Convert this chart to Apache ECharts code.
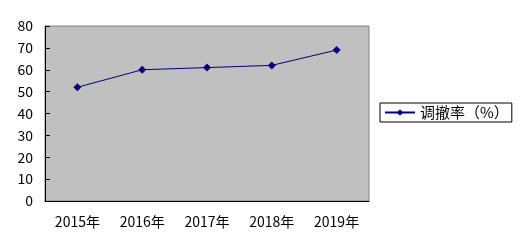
<!DOCTYPE html>
<html><head><meta charset="utf-8">
<script src="https://cdn.jsdelivr.net/npm/echarts@6/dist/echarts.min.js"></script>
<style>html,body{margin:0;padding:0;background:#fff}#c{width:520px;height:251px}</style>
</head><body><div id="c"></div>
<script>
const categories = ['2015年','2016年','2017年','2018年','2019年'];
const values = [52, 60, 61, 62, 69];
const seriesName = '调撤率（%）';
const yTicks = {min: 0, max: 80, interval: 10};

const chart = echarts.init(document.getElementById('c'));
const font = '"Noto Sans CJK SC", "DejaVu Sans", sans-serif';
chart.setOption({
  animation: false,
  backgroundColor: '#ffffff',
  grid: {left: 45, top: 26, width: 324, height: 175, show: true, backgroundColor: '#c0c0c0', borderColor: '#808080', borderWidth: 1},
  xAxis: {
    type: 'category', data: categories, boundaryGap: true,
    axisLine: {lineStyle: {color: '#000', width: 1}},
    axisTick: {inside: true, length: 5, lineStyle: {color: '#000'}},
    axisLabel: {color: '#000', fontSize: 14, fontFamily: font, margin: 14}
  },
  yAxis: {
    type: 'value', min: yTicks.min, max: yTicks.max, interval: yTicks.interval,
    axisLine: {show: true, lineStyle: {color: '#000', width: 1}},
    axisTick: {show: true, inside: true, length: 5, lineStyle: {color: '#000'}},
    splitLine: {show: false},
    axisLabel: {color: '#000', fontSize: 14, fontFamily: font, margin: 12}
  },
  legend: {
    left: 380, top: 103,
    borderColor: '#000', borderWidth: 1, padding: [2, 3, 2, 4],
    itemWidth: 30, itemHeight: 8, itemGap: 4,
    textStyle: {color: '#000', fontSize: 15, fontFamily: font},
    data: [seriesName]
  },
  series: [{
    name: seriesName, type: 'line', data: values,
    symbol: 'diamond', symbolSize: 8,
    lineStyle: {color: '#000080', width: 1},
    itemStyle: {color: '#000080'}
  }]
});
</script></body></html>
